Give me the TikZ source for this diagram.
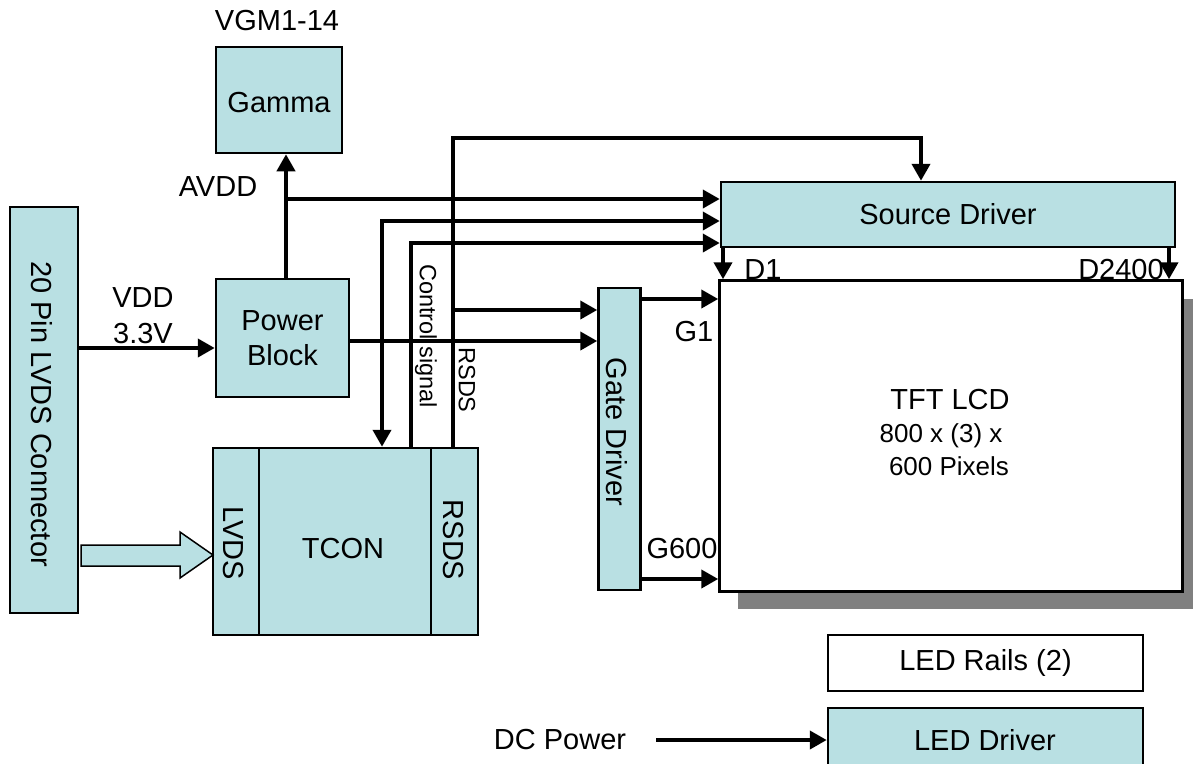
\documentclass[tikz,border=0pt]{standalone}
\usepackage{fontspec}
\setmainfont{Liberation Sans}
\usetikzlibrary{arrows.meta}
\definecolor{tealfill}{RGB}{185,224,227}
\definecolor{shadowgray}{RGB}{128,128,128}
\begin{document}
\begin{tikzpicture}[x=1pt,y=-1pt,
  box/.style={draw=black, line width=2.5pt, fill=tealfill, inner sep=0pt, align=center},
  wbox/.style={draw=black, line width=2.5pt, fill=white, inner sep=0pt, align=center},
  txt/.style={font=\fontsize{29}{36}\selectfont, inner sep=0pt, align=center},
  smalltxt/.style={font=\fontsize{23.5}{26}\selectfont, inner sep=0pt},
  midtxt/.style={font=\fontsize{26}{30}\selectfont, inner sep=0pt, align=center},
  wire/.style={line width=4pt, -{Triangle[length=17pt,width=18pt]}},
  bothwire/.style={line width=4pt, {Triangle[length=17pt,width=18pt]}-{Triangle[length=17pt,width=18pt]}},
]
\useasboundingbox (0,0) rectangle (1193,763);
\clip (0,0) rectangle (1193,763);

% ---- blocks ----
\node[box, minimum width=68pt, minimum height=406pt] (conn) at (44,410) {};
\node[txt, rotate=-90] (conntxt) at (42,414) {20 Pin LVDS Connector};

\node[box, minimum width=133pt, minimum height=118pt, font=\fontsize{29}{35}\selectfont] (power) at (282.5,338)
  {Power\\Block};
\node[box, minimum width=126pt, minimum height=106pt] (gamma) at (279,100) {};
\node[txt] (gammatxt) at (279,103) {Gamma};
\node[txt] (vgm) at (277,21) {VGM1-14};
\node[txt] (avdd) at (218,187) {AVDD};
\node[txt] (vdd) at (143,316) {VDD\\3.3V};

% TCON
\node[box, minimum width=265pt, minimum height=187pt] (tcon) at (345.5,541.5) {};
\draw[line width=1.5pt] (259,0 |- tcon.north) -- (259,0 |- tcon.south);
\draw[line width=1.5pt] (431,0 |- tcon.north) -- (431,0 |- tcon.south);
\node[txt, rotate=-90] (lvdstxt) at (233,543) {LVDS};
\node[txt] (tcontxt) at (343,549) {TCON};
\node[txt, rotate=-90] (rsdsin) at (453,540) {RSDS};

% Source driver
\node[box, minimum width=454pt, minimum height=65pt, font=\fontsize{29}{34}\selectfont] (src) at (948,214.5) {Source Driver};

% Gate driver
\node[box, minimum width=42pt, minimum height=302pt] (gate) at (619.5,439) {};
\node[txt, rotate=-90] (gatetxt) at (617,432) {Gate Driver};

% TFT LCD with shadow
\fill[shadowgray] (738,299) rectangle (1210,609);
\node[wbox, minimum width=463pt, minimum height=311pt] (lcd) at (951,436) {};
\node[txt] (lcdtxt1) at (950,400) {TFT LCD};
\node[midtxt] (lcdtxt2) at (941,436) {800 x (3) x};
\node[midtxt] (lcdtxt3) at (949,466) {600 Pixels};

% LED
\node[wbox, minimum width=315pt, minimum height=56pt, font=\fontsize{29}{34}\selectfont] (rails) at (985.5,663) {LED Rails (2)};
\node[box, minimum width=315pt, minimum height=64pt] (leddrv) at (985.5,740) {};
\node[txt] (leddrvtxt) at (985,740) {LED Driver};
\node[txt] (dc) at (560,740) {DC Power};

% ---- block arrow LVDS ----
\draw[line width=1.5pt, fill=tealfill] (81,545) -- (180,545) -- (180,532) -- (213,555)
  -- (180,578) -- (180,566) -- (81,566) -- cycle;

% ---- connectors ----
\draw[wire] (conn.east |- 0,348) -- (power.west |- 0,348);
\coordinate (avj) at (286,199);
\draw[wire] (286,0 |- power.north) -- (286,0 |- gamma.south);
\draw[wire] (avj) -- (src.west |- avj);
\draw[bothwire] (382,0 |- tcon.north) |- (src.west |- 0,221);
\draw[wire] (411,0 |- tcon.north) |- (src.west |- 0,243);
\draw[wire] (453,0 |- tcon.north) -- (453,138) -| (921,0 |- src.north);
\coordinate (rsdsj) at (453,310);
\draw[wire] (rsdsj) -- (gate.west |- rsdsj);
\draw[wire] (power.east |- 0,341) -- (gate.west |- 0,341);
\draw[wire] (gate.east |- 0,299) -- (lcd.west |- 0,299);
\draw[wire] (gate.east |- 0,579) -- (lcd.west |- 0,579);
\draw[wire] (723,0 |- src.south) -- (723,0 |- lcd.north);
\draw[wire] (1169,0 |- src.south) -- (1169,0 |- lcd.north);
\draw[wire] ([xshift=30pt]dc.east) -- (leddrv.west);

% ---- labels ----
\node[smalltxt, rotate=-90] (ctrl) at (426,336) {Control signal};
\node[smalltxt, rotate=-90] (rsdslbl) at (467,380) {RSDS};
\node[txt] (g1) at (694,332) {G1};
\node[txt] (g600) at (682,549) {G600};
\node[txt] (d1) at (763,270) {D1};
\node[txt] (d2400) at (1121,270) {D2400};
\end{tikzpicture}
\end{document}
